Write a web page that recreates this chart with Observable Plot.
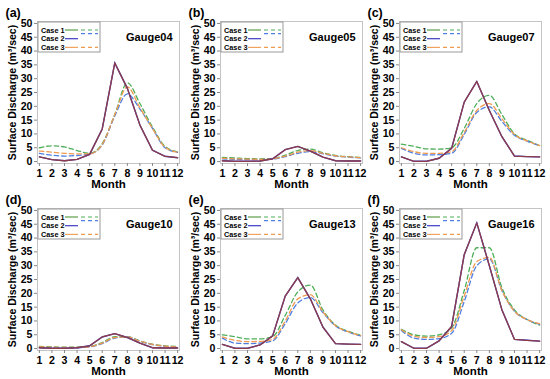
<!DOCTYPE html>
<html>
<head>
<meta charset="utf-8">
<script src="https://cdn.jsdelivr.net/npm/d3@7"></script>
<script src="https://cdn.jsdelivr.net/npm/@observablehq/plot@0.6"></script>
<style>
  html, body { margin: 0; padding: 0; background: #fff; }
  #wrap { position: relative; width: 550px; height: 379px; overflow: hidden; }
  .panel { position: absolute; }
  #wrap svg { overflow: visible; font-family: 'Liberation Sans', Arial, Helvetica, sans-serif !important; }
  #wrap svg text { font-family: 'Liberation Sans', Arial, Helvetica, sans-serif !important; font-weight: bold !important; fill: #000; }
  #wrap g[aria-label="x-axis tick label"] text { font-size: 10.6px; }
  #wrap g[aria-label="y-axis tick label"] text { font-size: 10.6px; }
  #wrap g[aria-label="x-axis tick"] path, #wrap g[aria-label="y-axis tick"] path { stroke: #888; }
  #wrap g.legend text { text-anchor: start; font-size: 7.3px; }
</style>
</head>
<body>
<div id="wrap"></div>
<script>
// ---------- data ----------
const months = [1, 2, 3, 4, 5, 6, 7, 8, 9, 10, 11, 12];
const yTicks = [0, 5, 10, 15, 20, 25, 30, 35, 40, 45, 50];
const panelLabels = ["(a)", "(b)", "(c)", "(d)", "(e)", "(f)"];
const gaugeNames = ["Gauge04", "Gauge05", "Gauge07", "Gauge10", "Gauge13", "Gauge16"];
const caseNames = ["Case 1", "Case 2", "Case 3"];

// solid lines (identical for the three cases, drawn overlapping)
const solid04 = [1.7, 0.7, 0.3, 0.8, 2.6, 11.8, 35.7, 26.5, 13.2, 4.1, 1.9, 1.4];
const solid05 = [0.3, 0.1, 0.1, 0.2, 1.0, 4.3, 5.5, 3.8, 1.6, 0.3, 0.2, 0.2];
const solid07 = [1.7, 0.1, 0.1, 1.2, 4.8, 21.5, 29.0, 18.5, 9.0, 2.0, 1.8, 1.7];
const solid10 = [0.3, 0.1, 0.1, 0.3, 1.0, 4.2, 5.4, 4.0, 2.0, 0.3, 0.2, 0.2];
const solid13 = [1.5, 0.1, 0.1, 1.3, 4.6, 19.0, 25.7, 18.0, 7.8, 1.8, 1.6, 1.5];
const solid16 = [2.5, 0.1, 0.1, 2.8, 8.0, 34.0, 45.5, 30.0, 14.0, 3.3, 3.0, 2.7];

// dashed lines per case
const case1_04 = [5.0, 5.7, 5.3, 4.0, 3.0, 6.5, 17.0, 28.5, 21.0, 12.5, 5.5, 3.5];
const case2_04 = [3.0, 2.3, 2.0, 2.2, 2.7, 6.0, 16.5, 24.5, 19.0, 12.0, 5.0, 3.3];
const case3_04 = [3.8, 3.4, 3.0, 2.8, 2.8, 6.2, 17.0, 27.0, 19.5, 12.0, 5.2, 3.4];

const case1_05 = [1.5, 1.3, 1.1, 1.0, 1.1, 2.3, 4.0, 4.5, 3.2, 2.2, 1.8, 1.5];
const case2_05 = [1.0, 0.8, 0.7, 0.7, 0.9, 1.8, 3.0, 3.6, 2.8, 2.0, 1.6, 1.3];
const case3_05 = [1.2, 1.0, 0.9, 0.8, 1.0, 2.0, 3.4, 4.0, 3.0, 2.1, 1.7, 1.4];

const case1_07 = [6.3, 5.5, 4.6, 4.5, 5.0, 12.0, 21.0, 24.0, 17.0, 10.0, 7.7, 5.8];
const case2_07 = [4.8, 3.0, 2.4, 2.5, 3.0, 9.8, 17.8, 19.8, 14.5, 9.5, 7.4, 5.8];
const case3_07 = [5.0, 3.6, 3.0, 3.0, 3.6, 10.5, 18.5, 21.0, 15.5, 9.8, 7.5, 5.8];

const case1_10 = [0.8, 0.6, 0.5, 0.5, 0.8, 2.2, 4.3, 4.3, 2.8, 1.6, 1.0, 0.8];
const case2_10 = [0.4, 0.3, 0.3, 0.3, 0.6, 1.8, 3.8, 4.2, 2.6, 1.4, 0.8, 0.5];
const case3_10 = [0.6, 0.5, 0.4, 0.4, 0.7, 2.0, 4.0, 4.2, 2.7, 1.5, 0.9, 0.6];

const case1_13 = [5.0, 4.3, 3.5, 3.5, 4.3, 12.0, 20.5, 23.0, 14.0, 8.5, 6.3, 4.8];
const case2_13 = [3.8, 2.0, 1.8, 2.0, 2.8, 9.0, 16.5, 18.5, 13.0, 8.2, 6.0, 4.6];
const case3_13 = [4.2, 3.0, 2.5, 2.6, 3.3, 10.0, 18.0, 19.5, 13.3, 8.3, 6.1, 4.7];

const case1_16 = [7.0, 5.0, 4.5, 5.0, 7.5, 21.0, 36.5, 36.5, 22.0, 14.0, 10.5, 8.5];
const case2_16 = [6.5, 3.8, 3.3, 3.6, 5.5, 17.0, 30.0, 32.5, 21.0, 13.5, 10.5, 8.8];
const case3_16 = [6.8, 4.5, 4.0, 4.3, 6.5, 19.0, 31.5, 33.0, 21.0, 13.5, 10.5, 9.0];

const solids = [solid04, solid05, solid07, solid10, solid13, solid16];
const dashed = [
  [case1_04, case2_04, case3_04],
  [case1_05, case2_05, case3_05],
  [case1_07, case2_07, case3_07],
  [case1_10, case2_10, case3_10],
  [case1_13, case2_13, case3_13],
  [case1_16, case2_16, case3_16]
];

// ---------- styling ----------
const solidColors = ["#5a9e4a", "#3b3bc4", "#f0a35e"];
const dashColors = ["#4fae5a", "#4f7fe0", "#f09a50"];
const overlapColor = "#8e3d48";
const FONT = "Liberation Sans, Arial, Helvetica, sans-serif";
const W = 183, H = 189;
const lefts = [0, 183, 362];
const tops = [0, 187];

const wrap = document.getElementById("wrap");

gaugeNames.forEach((g, i) => {
  const solidRows = months.map((m, k) => ({month: m, value: solids[i][k]}));
  const dashRows = dashed[i].map((arr, c) => months.map((m, k) => ({month: m, value: arr[k], series: caseNames[c]})));

  const marks = [
    Plot.frame({stroke: "#c4c4c4", strokeWidth: 1}),
    Plot.axisX({ticks: months, tickSize: 3, tickPadding: 3, label: null, tickFormat: d => String(d)}),
    Plot.axisY({ticks: yTicks, tickSize: 3, tickPadding: 2, label: null}),
  ];
  // dashed simulated lines
  dashRows.forEach((rows, c) => {
    marks.push(Plot.line(rows, {x: "month", y: "value", stroke: dashColors[c], strokeWidth: 1.3,
      strokeDasharray: "4.5,3", curve: "monotone-x"}));
  });
  // solid lines (overlapping)
  marks.push(Plot.line(solidRows, {x: "month", y: "value", stroke: solidColors[1], strokeWidth: 1.4, strokeLinejoin: "miter", strokeMiterlimit: 10}));
  marks.push(Plot.line(solidRows, {x: "month", y: "value", stroke: overlapColor, strokeWidth: 1.3, strokeLinejoin: "round"}));
  // texts
  marks.push(Plot.text([panelLabels[i]], {frameAnchor: "top-left", dx: -32, dy: -9, textAnchor: "start",
    lineAnchor: "middle", fontSize: 12.5}));
  marks.push(Plot.text([g], {frameAnchor: "top-right", dx: -7, dy: 16, textAnchor: "end",
    lineAnchor: "middle", fontSize: 11}));
  marks.push(Plot.text(["Month"], {frameAnchor: "bottom", dy: 21, textAnchor: "middle", lineAnchor: "middle", fontSize: 11.5}));
  marks.push(Plot.text(["Surface Discharge (m\u00B3/sec)"], {frameAnchor: "left", dx: -25, rotate: -90,
    textAnchor: "middle", lineAnchor: "middle", fontSize: 10.5}));

  const svg = Plot.plot({
    width: W, height: H,
    marginLeft: 37, marginRight: 4, marginTop: 21, marginBottom: 26,
    x: {domain: [0.85, 12.15]},
    y: {domain: [-0.7, 50.7]},
    style: {fontFamily: FONT, fontSize: "11px", color: "#000", background: "transparent", overflow: "visible"},
    marks
  });

  // legend box (top-left inside frame)
  const s = d3.select(svg);
  const lg = s.append("g").attr("class", "legend").attr("text-anchor", "start");
  lg.append("rect").attr("x", 38).attr("y", 22).attr("width", 62).attr("height", 30)
    .attr("fill", "#fff").attr("stroke", "#999").attr("stroke-width", 1);
  caseNames.forEach((c, k) => {
    const yy = 30 + k * 8.7;
    lg.append("text").attr("x", 41).attr("y", yy).attr("dy", "0.35em").attr("text-anchor", "start").text(c);
    lg.append("line").attr("x1", 65).attr("x2", 78).attr("y1", yy).attr("y2", yy)
      .attr("stroke", solidColors[k]).attr("stroke-width", 1.2);
    const yd = k === 1 ? yy - 5 : yy;
    lg.append("line").attr("x1", 81).attr("x2", 98).attr("y1", yd).attr("y2", yd)
      .attr("stroke", dashColors[k]).attr("stroke-width", 1.2).attr("stroke-dasharray", "4,3");
  });

  const div = document.createElement("div");
  div.className = "panel";
  div.style.left = lefts[i % 3] + "px";
  div.style.top = tops[Math.floor(i / 3)] + "px";
  div.appendChild(svg);
  wrap.appendChild(div);
});
</script>
</body>
</html>
